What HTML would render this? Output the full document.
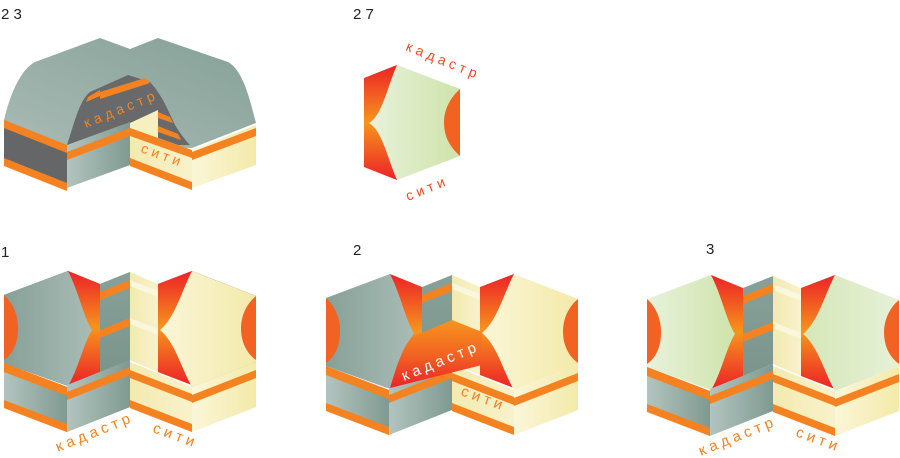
<!DOCTYPE html>
<html><head><meta charset="utf-8"><style>
html,body{margin:0;padding:0;background:#fff;}
svg{display:block;}
text{font-family:"Liberation Sans",sans-serif;}
</style></head><body>
<svg width="900" height="458" viewBox="0 0 900 458" xmlns="http://www.w3.org/2000/svg">
<defs>
<linearGradient id="gray" x1="0" x2="1" y1="0" y2="0"><stop offset="0" stop-color="#86a098"/><stop offset="1" stop-color="#a9bcb5"/></linearGradient>
<linearGradient id="grayL" x1="0" x2="1"><stop offset="0" stop-color="#b3c4bf"/><stop offset="1" stop-color="#7f9a91"/></linearGradient>
<linearGradient id="grayC" x1="0" x2="0" y1="0" y2="1"><stop offset="0" stop-color="#87a199"/><stop offset="1" stop-color="#7a958c"/></linearGradient>
<linearGradient id="yel" x1="0" x2="1"><stop offset="0" stop-color="#fbf6d8"/><stop offset="1" stop-color="#f3eaa9"/></linearGradient>
<linearGradient id="yelC" x1="0" x2="1"><stop offset="0" stop-color="#f3eab0"/><stop offset="1" stop-color="#f8f2cc"/></linearGradient>
<linearGradient id="grn" x1="0" x2="1"><stop offset="0" stop-color="#e8f2dc"/><stop offset="1" stop-color="#cfe3aa"/></linearGradient>
<linearGradient id="grn2" x1="0" x2="1"><stop offset="0" stop-color="#d5e7b8"/><stop offset="1" stop-color="#e6f1d7"/></linearGradient>
<linearGradient id="red" x1="0" x2="0" y1="0" y2="1"><stop offset="0" stop-color="#ec2227"/><stop offset="0.25" stop-color="#f15a22"/><stop offset="0.5" stop-color="#f7941d"/><stop offset="0.75" stop-color="#f15a22"/><stop offset="1" stop-color="#ec2227"/></linearGradient>
<linearGradient id="band" x1="0" x2="0" y1="0" y2="1"><stop offset="0" stop-color="#f7941d"/><stop offset="0.5" stop-color="#f26522"/><stop offset="1" stop-color="#ec2227"/></linearGradient>
<linearGradient id="roof" x1="0" x2="1" y1="1" y2="0"><stop offset="0" stop-color="#a9bbb5"/><stop offset="1" stop-color="#85a097"/></linearGradient>
</defs>

<g font-size="15" fill="#222">
<text x="1" y="19">2 3</text><text x="353" y="19">2 7</text>
<text x="1" y="257">1</text><text x="353" y="255">2</text><text x="706" y="254">3</text>
</g>

<!-- figure 23 -->
<g>
<path d="M4,120 C10,95 20,70 35,62 L100,38 L130,49 L158,38 L228,62 C243,70 250,100 256,123 L192,148 L67,145 Z" fill="url(#roof)"/>
<path d="M67,145 C75,120 80,100 90,92 L128,75 L150,82 C162,95 168,110 175,125 C180,133 185,140 190,145 Z" fill="#68696b"/>
<polygon points="88,97 100,90 100,96 86,102" fill="#f58220"/>
<polygon points="100,92 145,78 150,83 100,99" fill="#f58220"/>
<polygon points="130,123 158,110 158,145 130,145" fill="#f6efbf"/>
<polygon points="158,112 170,117 173,123 158,118" fill="#f58220"/>
<polygon points="158,126 178,134 181,140 158,132" fill="#f58220"/>
<text x="0" y="0" font-size="14" fill="#f58220" letter-spacing="4" transform="translate(86,128) rotate(-22)">кадастр</text>
<polygon points="4,120 67,145 67,188 4,162" fill="#656668"/>
<polygon points="4,120 67,145 67,153 4,128" fill="#f58220"/>
<polygon points="4,158 67,183 67,191 4,166" fill="#f58220"/>
<polygon points="67,145 130,122 130,165 67,188" fill="url(#grayL)"/>
<polygon points="67,152 130,128 130,136 67,160" fill="#f58220"/>
<polygon points="130,128 192,150 192,188 130,165" fill="url(#yelC)"/>
<polygon points="130,128 192,150 192,158 130,136" fill="#f58220"/>
<polygon points="130,158 192,182 192,190 130,166" fill="#f58220"/>
<polygon points="192,150 256,125 256,165 192,188" fill="url(#yel)"/>
<polygon points="192,152 256,128 256,136 192,160" fill="#f58220"/>
<text x="0" y="0" font-size="14" fill="#f58220" letter-spacing="4" transform="translate(140,152) rotate(20)">сити</text>
</g>

<!-- figure 27 -->
<g>
<polygon points="364,78 397,65 397,180 364,167" fill="url(#red)"/>
<path d="M397,65 L460,89 L460,156 L397,180 C388,160 382,130 369,123 C382,116 388,85 397,65 Z" fill="url(#grn)"/>
<path d="M460,89 C448,100 444,112 444,122 C444,135 448,145 460,156 Z" fill="#f26222"/>
<text font-size="14" fill="#ef4b24" letter-spacing="4" transform="translate(405,50) rotate(22)">кадастр</text>
<text font-size="14" fill="#ef4b24" letter-spacing="4" transform="translate(408,201) rotate(-22)">сити</text>
</g>

<g id="fig">
<polygon points="68,271 100,284 100,372 68,385" fill="url(#red)"/>
<path d="M4,295 L68,271 C78,290 84,318 92,330 C84,342 78,370 68,386 L4,363 Z" fill="var(--upL)"/>
<path d="M4,295 C15,305 18,318 18,328 C18,340 15,352 4,360 Z" fill="#f26222"/>
<polygon points="100,284 130,272 130,360 100,372" fill="url(#grayC)"/>
<polygon points="100,292 130,280 130,288 100,300" fill="#f58220"/>
<polygon points="100,330 130,318 130,326 100,338" fill="#f58220"/>
<polygon points="130,272 158,284 158,372 130,360" fill="url(#yelC)"/>
<polygon points="130,280 158,291 158,297 130,286" fill="#fbf7de"/>
<polygon points="130,318 158,329 158,335 130,324" fill="#fbf7de"/>
<polygon points="158,284 192,271 192,385 158,372" fill="url(#red)"/>
<path d="M192,271 L256,296 L256,362 L192,387 C182,370 175,342 160,330 C175,318 182,290 192,271 Z" fill="var(--upR)"/>
<path d="M256,296 C245,305 241,318 241,328 C241,340 245,352 256,360 Z" fill="#f26222"/>
<polygon points="4,363 67,387 67,432 4,407" fill="url(#grayL)"/>
<polygon points="4,363 67,387 67,396 4,372" fill="#f58220"/>
<polygon points="4,400 67,424 67,432 4,408" fill="#f58220"/>
<polygon points="67,385 130,360 130,407 67,432" fill="url(#grayL)"/>
<polygon points="67,392 130,367 130,375 67,400" fill="#f58220"/>
<polygon points="130,362 192,387 192,432 130,407" fill="url(#yelC)"/>
<polygon points="130,370 192,394 192,402 130,378" fill="#f58220"/>
<polygon points="130,400 192,424 192,432 130,408" fill="#f58220"/>
<polygon points="192,387 256,362 256,407 192,432" fill="url(#yel)"/>
<polygon points="192,395 256,370 256,378 192,403" fill="#f58220"/>
</g>

<g>
<use href="#fig" style="--upL:url(#gray);--upR:url(#yel)"/>
<text font-size="15" fill="#f58220" letter-spacing="4" transform="translate(58,452) rotate(-22)">кадастр</text>
<text font-size="15" fill="#f58220" letter-spacing="4" transform="translate(152,432) rotate(20)">сити</text>
</g>

<g transform="translate(322,3)">
<use href="#fig" style="--upL:url(#gray);--upR:url(#yel)"/>
<path d="M68,385 C74,365 80,345 90,334 L130,317 L160,329 L160,362 Z" fill="url(#band)"/>
<text font-size="15" fill="#fff" letter-spacing="4" transform="translate(82,378) rotate(-22)">кадастр</text>
<text font-size="15" fill="#f58220" letter-spacing="4" transform="translate(138,392) rotate(20)">сити</text>
</g>

<g transform="translate(643,4)">
<use href="#fig" style="--upL:url(#grn);--upR:url(#grn2)"/>
<text font-size="15" fill="#f58220" letter-spacing="4" transform="translate(58,452) rotate(-22)">кадастр</text>
<text font-size="15" fill="#f58220" letter-spacing="4" transform="translate(152,432) rotate(20)">сити</text>
</g>
</svg>
</body></html>
